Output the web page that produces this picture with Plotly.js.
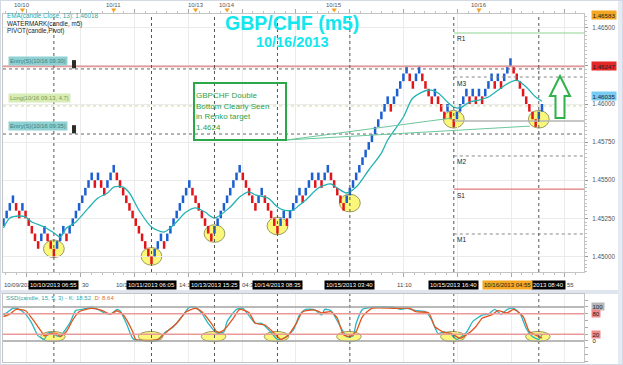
<!DOCTYPE html>
<html><head><meta charset="utf-8">
<script src="https://cdn.plot.ly/plotly-3.0.1.min.js"></script>
<style>html,body{margin:0;padding:0;background:#fff;}#chart{width:623px;height:365px;}</style>
</head><body><div id="chart"></div>
<script>
// ---------------- DATA ----------------
const brickSize = 0.0005;
const brickLow = [1.4520,1.4525,1.4530,1.4535,1.4530,1.4525,1.4530,1.4525,1.4520,1.4515,1.4510,1.4505,1.4510,1.4515,1.4510,1.4505,1.4500,1.4505,1.4510,1.4515,1.4510,
1.4515,1.4520,1.4525,1.4530,1.4535,1.4540,1.4545,1.4550,1.4545,1.4550,1.4545,1.4540,1.4545,1.4550,1.4555,
1.4550,1.4545,1.4540,1.4535,1.4530,1.4525,1.4520,1.4515,1.4510,1.4505,1.4500,1.4495,
1.4500,1.4505,1.4510,1.4505,
1.4510,1.4515,1.4520,1.4525,1.4530,1.4535,1.4540,1.4545,
1.4540,1.4535,1.4530,1.4525,1.4520,1.4515,1.4510,
1.4515,1.4520,1.4525,1.4530,1.4535,1.4540,1.4545,1.4550,1.4555,
1.4550,1.4545,1.4540,1.4535,1.4530,
1.4535,1.4540,
1.4535,1.4530,1.4525,1.4520,1.4515,
1.4520,1.4525,1.4520,
1.4525,1.4530,1.4535,1.4540,1.4535,1.4540,1.4545,1.4550,1.4545,1.4550,1.4545,1.4550,1.4555,
1.4550,1.4545,1.4540,1.4535,1.4530,
1.4535,1.4540,1.4545,1.4550,1.4555,1.4560,1.4565,1.4570,1.4575,1.4580,1.4585,1.4590,1.4595,1.4600,
1.4595,
1.4600,1.4605,1.4610,1.4615,1.4620,
1.4615,1.4610,1.4615,1.4620,
1.4615,1.4610,1.4605,1.4600,1.4605,1.4600,1.4595,1.4590,1.4595,1.4590,1.4585,
1.4590,1.4595,1.4600,1.4605,1.4600,1.4605,1.4600,1.4605,1.4600,
1.4605,1.4610,1.4615,1.4610,1.4615,1.4610,1.4615,1.4620,1.4625,
1.4620,1.4615,1.4610,1.4605,1.4600,1.4595,1.4590,1.4585,
1.4590,1.4595];
const firstBrickUp = true;

const emaIdx = [0,2,5,7,9,13,16,18,20,23,27,30,33,35,38,40,43,47,51,54,58,61,64,67,72,75,78,80,84,87,89,92,94,96,100,104,106,109,112,116,120,122,127,130,135,138,141,143,145,148,151,154,158,161,163,166,169,171];
const emaVal = [1.45186,1.45252,1.45265,1.45259,1.45226,1.45193,1.45154,1.45127,1.45186,1.45226,1.45318,1.45383,1.45416,1.45455,1.45455,1.45416,1.45304,1.45193,1.45160,1.45206,1.45291,1.45318,1.45291,1.45252,1.45324,1.45390,1.45423,1.45403,1.45383,1.45324,1.45304,1.45304,1.45337,1.45370,1.45449,1.45475,1.45449,1.45416,1.45455,1.45567,1.45678,1.45764,1.45915,1.46039,1.46092,1.46072,1.46013,1.45980,1.45974,1.46013,1.46026,1.46046,1.46105,1.46144,1.46157,1.46112,1.46046,1.46018];

const kIdx = [0,1,3,5,7,9,11,13,14,15,17,18,19,21,23,25,28,30,32,34,36,37,39,41,42,49,51,54,57,59,61,63,65,68,70,71,74,76,78,80,82,85,87,89,92,94,96,99,101,102,104,107,109,111,112,114,117,124,126,128,131,134,136,138,140,142,144,147,149,152,154,156,158,160,162,164,166,168,170,171];
const kVal = [76,83,96,93,79,52,15,5,22,25,15,13,25,52,90,93,99,93,83,79,93,89,52,8,3,3,23,42,76,99,99,81,52,22,27,57,93,96,74,52,52,25,5,8,32,76,93,91,76,93,89,42,13,15,52,93,99,99,93,96,89,86,62,22,27,20,5,25,57,76,79,93,79,93,96,81,37,13,5,18.52];
const dIdx = [0,2,4,7,9,12,13,15,17,18,20,22,24,28,31,34,36,38,41,42,49,52,55,58,61,63,66,68,70,73,75,78,80,83,86,88,90,93,95,99,101,104,106,108,110,112,114,117,124,129,131,135,137,140,142,145,147,150,152,155,157,160,162,165,167,170,171];
const dVal = [72,79,93,89,67,28,15,22,22,13,28,62,86,96,91,79,89,77,28,5,5,28,52,86,96,86,52,25,32,67,93,83,52,47,23,5,13,52,86,91,83,86,67,18,13,28,72,96,96,96,86,83,42,25,23,8,18,42,67,77,89,83,93,72,28,13,8.64];

const markIdx = [16,47,67,87,110,143,170];
const markLabels = ['10/10/2013 06:55','10/11/2013 06:05','10/13/2013 15:25','10/14/2013 08:35','10/15/2013 03:40','10/15/2013 16:40','2013 08:40'];
const cursorIdx = 160, cursorLabel = '10/16/2013 04:55';
const timeTickIdx = [24.45,35.1,55.25,75.26,124.3,178.2];
const timeTickLabels = ['30','10/1','14:1','04:3','11:10','55'];
const firstTimeLabel = '10/09/201';
const dayIdx = [6,35,61,71,105,151];
const dayLabels = ['10/10','10/11','10/13','10/14','10/15','10/16'];

const pivotNames = ['R1','M3','P','M2','S1','M1'];
const pivotPrices = [1.46466,1.46177,1.45888,1.45659,1.45442,1.45147];
const pivotStartIdx = 143;
const targetPrice = 1.46247;
const orderLabels = ['Entry(S)(10/16 09:30)','Long(10/16 09:13, 4.7)','Entry(S)(10/16 09:35)'];
const orderPrices = [1.46230,1.45987,1.45803];
const priceTicks = [1.4500,1.4525,1.4550,1.4575,1.4600,1.4625,1.4650];
const flagPrices = [1.46583,1.46247,1.46035];
const oscLevels = [100,80,20,0];
const emaLast = 1.46018, kLast = 18.52, dLast = 8.64;

// ---------------- CHART ----------------
const W = 623, H = 365;
const xr = [-0.16, 184.35];
const px = v => v / W, py = v => 1 - v / H;
const ix = i => (3 + (i - xr[0]) / (xr[1] - xr[0]) * 581) / W;
const FONT = 'Liberation Sans, Arial, sans-serif';

const idx = brickLow.map((_, i) => i);
const up = brickLow.map((v, i) => i === 0 ? firstBrickUp : v > brickLow[i - 1]);

const traces = [
  {type:'bar', x:idx, y:brickLow.map(()=>brickSize), base:brickLow, width:0.8,
   marker:{color:up.map(u=>u?'#1c5fd0':'#e0161a'), line:{width:0}}, xaxis:'x', yaxis:'y', hoverinfo:'skip'},
  {type:'scatter', mode:'lines', x:emaIdx, y:emaVal, line:{color:'#23b2b4', width:1.3, shape:'spline', smoothing:0.8}, xaxis:'x', yaxis:'y', hoverinfo:'skip'},
  {type:'scatter', mode:'lines', x:kIdx, y:kVal, line:{color:'#2bb6c2', width:1.3, shape:'spline', smoothing:0.6}, xaxis:'x2', yaxis:'y2', hoverinfo:'skip'},
  {type:'scatter', mode:'lines', x:dIdx, y:dVal, line:{color:'#e0561e', width:1.3, shape:'spline', smoothing:0.6}, xaxis:'x2', yaxis:'y2', hoverinfo:'skip'}
];

const shapes = [];
const ann = [];
// frame / separators
shapes.push({type:'rect', xref:'paper', yref:'paper', x0:0, x1:1, y0:py(294), y1:py(290), fillcolor:'#dfe5ef', line:{width:0}, layer:'below'});
shapes.push({type:'rect', xref:'paper', yref:'paper', x0:px(618), x1:1, y0:0, y1:1, fillcolor:'#e6ebf3', line:{width:0}, layer:'below'});
shapes.push({type:'rect', xref:'paper', yref:'paper', x0:0, x1:1, y0:0, y1:1, line:{color:'#d3dae6', width:2}, fillcolor:'rgba(0,0,0,0)'});

// target red line and order lines
shapes.push({type:'line', xref:'x', yref:'y', x0:xr[0], x1:xr[1], y0:targetPrice, y1:targetPrice, line:{color:'#e49a9a', width:1.6}});
orderLabels.forEach((t, i) => {
  const isLong = t.startsWith('Long');
  shapes.push({type:'line', xref:'x', yref:'y', x0:xr[0], x1:xr[1], y0:orderPrices[i], y1:orderPrices[i],
    line:{color:isLong?'#c9d98c':'#666', width:1, dash:'dot'}});
  ann.push({xref:'paper', yref:'y', x:px(8), y:orderPrices[i], xanchor:'left', yanchor:'bottom', yshift:3, text:t, showarrow:false,
    font:{family:FONT, size:5.8, color:isLong?'#7c9a4e':'#3b7d7f'}, bgcolor:isLong?'#d8ecb6':'#8fd1d2', borderpad:1});
  if (!isLong) shapes.push({type:'rect', xref:'paper', yref:'y', x0:px(72), x1:px(76), y0:orderPrices[i]+0.00004, y1:orderPrices[i]+0.00058, fillcolor:'#2b2b2b', line:{width:0}});
});

// pivot lines
const pivotStyle = {R1:{color:'#8fd48f',width:1.2}, M3:{color:'#888',width:1,dash:'dot'}, P:{color:'#b4b4b4',width:1.5},
  M2:{color:'#888',width:1,dash:'dot'}, S1:{color:'#e07a7a',width:1.2}, M1:{color:'#888',width:1,dash:'dot'}};
pivotNames.forEach((n, i) => {
  shapes.push({type:'line', xref:'x', yref:'y', x0:pivotStartIdx, x1:xr[1], y0:pivotPrices[i], y1:pivotPrices[i], line:pivotStyle[n]});
  if (n !== 'P') ann.push({xref:'x', yref:'y', x:pivotStartIdx + 0.5, y:pivotPrices[i], xanchor:'left', yanchor:'top', yshift:-0.5, text:n, showarrow:false, font:{family:FONT, size:6.5, color:'#222'}});
});

// marked bottoms: dotted verticals + ellipses
markIdx.forEach((m, j) => {
  shapes.push({type:'line', xref:'x', yref:'y domain', x0:m, x1:m, y0:0, y1:1, line:{color:'#555', width:1, dash:'dot'}});
  shapes.push({type:'line', xref:'x2', yref:'y2 domain', x0:m, x1:m, y0:0, y1:1, line:{color:'#555', width:1, dash:'dot'}});
  let lo = Infinity;
  for (let k = Math.max(0, m - 3); k <= Math.min(brickLow.length - 1, m + 3); k++) lo = Math.min(lo, brickLow[k]);
  const cy = lo + brickSize;
  shapes.push({type:'circle', xref:'x', yref:'y', x0:m - 3.3, x1:m + 3.3, y0:cy - 0.00058, y1:cy + 0.00058,
    fillcolor:'#fbf77a', line:{color:'#9a9a62', width:1}, layer:'below'});
  shapes.push({type:'circle', xref:'x2', yref:'y2', x0:m - 4.2, x1:m + 3.6, y0:-2, y1:28,
    fillcolor:'#fbf77a', line:{color:'#9a9a62', width:1}, layer:'below'});
  const last = (j === markIdx.length - 1);
  ann.push({xref:'x', yref:'paper', x:m, xshift:last ? 9.5 : 0, y:py(285), xanchor:'center', yanchor:'middle', text:markLabels[j], showarrow:false, font:{family:FONT, size:6, color:'#fff'}, bgcolor:'#000', borderpad:1});
});
ann.push({xref:'x', yref:'paper', x:cursorIdx, y:py(285), xanchor:'center', yanchor:'middle', text:cursorLabel, showarrow:false, font:{family:FONT, size:6, color:'#222'}, bgcolor:'#f5a623', borderpad:1});
// regular time labels (visible fragments)
const timeAnn = [{xref:'paper', yref:'paper', x:px(2), y:py(285), xanchor:'left', yanchor:'middle', text:firstTimeLabel, showarrow:false, font:{family:FONT, size:6, color:'#444'}}];
timeTickIdx.forEach((t, i) => timeAnn.push({xref:'paper', yref:'paper', x:ix(t), y:py(285), xanchor:'left', yanchor:'middle', text:timeTickLabels[i], showarrow:false, font:{family:FONT, size:6, color:'#444'}}));

// day labels on top, with small orange triangle markers
dayIdx.forEach((d, i) => {
  ann.push({xref:'paper', yref:'paper', x:ix(d), y:py(5), xanchor:'center', yanchor:'middle', text:dayLabels[i], showarrow:false, font:{family:FONT, size:6, color:'#555'}});
  const cx = ix(d) * W;
  shapes.push({type:'path', xref:'paper', yref:'paper',
    path:'M' + px(cx - 2.6) + ',' + py(8.6) + ' L' + px(cx + 2.6) + ',' + py(8.6) + ' L' + px(cx) + ',' + py(12.6) + ' Z',
    fillcolor:'#f5a020', line:{width:0}});
});

// osc levels
oscLevels.forEach(v => {
  const red = (v === 80 || v === 20);
  shapes.push({type:'line', xref:'x2', yref:'y2', x0:xr[0], x1:xr[1], y0:v, y1:v, line:{color:red?'#eb9a9a':'#a2a2a2', width:1.6}});
  ann.push({xref:'paper', yref:'y2', x:px(591), y:v, xanchor:'left', yanchor:'middle', text:String(v), showarrow:false,
    font:{family:FONT, size:6, color:'#222'}, bgcolor:v===100?'#b8b8b8':(red?'#f08a8a':'rgba(0,0,0,0)'), borderpad:0.5});
});

// right flag labels
const flagColors = ['#f5a623','#e52828','#79cbf2'];
flagPrices.forEach((p, i) => ann.push({xref:'paper', yref:'y', x:px(591), y:p, yshift:(i === 2 ? 2.5 : 0), xanchor:'left', yanchor:'middle', text:p.toFixed(5), showarrow:false,
  font:{family:FONT, size:6.2, color:'#222'}, bgcolor:flagColors[i], borderpad:0.5}));

// annotation box + connector lines
const boxX0 = 60.2, boxX1 = 90, boxY0 = 1.45764, boxY1 = 1.46144;
ann.push({xref:'x', yref:'y', x:(boxX0+boxX1)/2, y:(boxY0+boxY1)/2, xanchor:'center', yanchor:'middle', width:88, height:53, align:'left', valign:'middle',
  text:'GBPCHF Double<br>Bottom Clearly Seen<br>in Renko target<br>1.4624', showarrow:false,
  font:{family:FONT, size:8, color:'#2fa14a'}, bgcolor:'rgba(255,255,255,0)', bordercolor:'#2aa84a', borderwidth:2, borderpad:1});
[5, 6].forEach((j, n) => {
  const m = markIdx[j];
  let lo = Infinity;
  for (let k = m - 3; k <= Math.min(brickLow.length - 1, m + 3); k++) lo = Math.min(lo, brickLow[k]);
  shapes.push({type:'line', xref:'x', yref:'y', x0:boxX1, y0:boxY0, x1:m - (n ? 2.8 : 0.6), y1:lo + brickSize + (n ? -0.00045 : 0.00008),
    line:{color:'#6cc79a', width:1}});
});

// green up arrow
const ax = [560,570,564.5,564.5,555.5,555.5,550], ay = [76,96,96,118,118,96,96];
shapes.push({type:'path', xref:'paper', yref:'paper',
  path:'M' + ax.map((v, i) => px(v) + ',' + py(ay[i])).join(' L') + ' Z', fillcolor:'#ffffff', line:{color:'#2fb24a', width:2}});

// titles and legends (title + date as one two-line text)
ann.push({xref:'paper', yref:'paper', x:px(292), y:py(31), xanchor:'center', yanchor:'middle', align:'center',
  text:'<span style="font-size:19.5px"><b>GBP/CHF (m5)</b></span><br><span style="font-size:14.5px"><b>10/16/2013</b></span>',
  showarrow:false, font:{family:FONT, size:13.3, color:'#14e6ee'}, borderpad:0});
ann.push({xref:'paper', yref:'paper', x:px(5), y:py(16.5), xanchor:'left', yanchor:'middle', text:'EMA(candle.Close, 13): ' + emaLast.toFixed(5), showarrow:false, font:{family:FONT, size:6.3, color:'#2aa6a8'}});
ann.push({xref:'paper', yref:'paper', x:px(5), y:py(23.8), xanchor:'left', yanchor:'middle', text:'WATERMARK(candle, m5)', showarrow:false, font:{family:FONT, size:6.3, color:'#222'}});
ann.push({xref:'paper', yref:'paper', x:px(5), y:py(31), xanchor:'left', yanchor:'middle', text:'PIVOT(candle,Pivot)', showarrow:false, font:{family:FONT, size:6.3, color:'#222'}});
ann.push({xref:'paper', yref:'paper', x:px(4), y:py(297.5), xanchor:'left', yanchor:'middle',
  text:'<span style="color:#2aa6b0">SSD(candle, 15, 5, 3) - K: ' + kLast.toFixed(2) + '</span>  <span style="color:#e0702e">D: ' + dLast.toFixed(2) + '</span>',
  showarrow:false, font:{family:FONT, size:6}});

const layout = {
  width:W, height:H, margin:{l:0, r:0, t:0, b:0}, paper_bgcolor:'#ffffff', plot_bgcolor:'#ffffff', showlegend:false,
  font:{family:FONT, size:7, color:'#444'},
  xaxis:{domain:[px(3), px(584)], range:xr, anchor:'y', showticklabels:false, showgrid:true, gridcolor:'#ebebeb', tick0:7.46, dtick:17.08,
    ticks:'outside', ticklen:4, tickcolor:'#aaa', showline:true, linecolor:'#c4c4c4', mirror:'ticks', zeroline:false,
    minor:{dtick:3.416, tick0:7.46, ticklen:2, tickcolor:'#c0c0c0', showgrid:false}},
  yaxis:{domain:[1 - 272/H, 1 - 14/H], range:[1.448976, 1.465906], side:'right', anchor:'x', tickmode:'array', tickvals:priceTicks, tickformat:'.5f',
    tickfont:{family:FONT, size:6.3, color:'#555'}, ticks:'outside', ticklen:3, tickcolor:'#999', ticklabelstandoff:3,
    showgrid:true, gridcolor:'#ebebeb', showline:true, linecolor:'#c4c4c4', mirror:true, zeroline:false,
    minor:{tickmode:'linear', tick0:1.45, dtick:0.00025, ticklen:2, tickcolor:'#c0c0c0', showgrid:false}},
  xaxis2:{domain:[px(3), px(584)], range:xr, anchor:'y2', showticklabels:false, showgrid:true, gridcolor:'#ededed', tick0:7.46, dtick:17.08,
    ticks:'', showline:true, linecolor:'#c4c4c4', mirror:true, zeroline:false},
  yaxis2:{domain:[3/H, 1 - 294/H], range:[-61.8, 138.2], side:'right', anchor:'x2', showticklabels:false, showgrid:false, zeroline:false,
    showline:true, linecolor:'#c4c4c4', mirror:true, ticks:'outside', ticklen:3, tickcolor:'#aaa', tick0:0, dtick:20},
  shapes:shapes,
  annotations:timeAnn.concat(ann)
};

Plotly.newPlot('chart', traces, layout, {staticPlot:true, displayModeBar:false});
</script></body></html>
